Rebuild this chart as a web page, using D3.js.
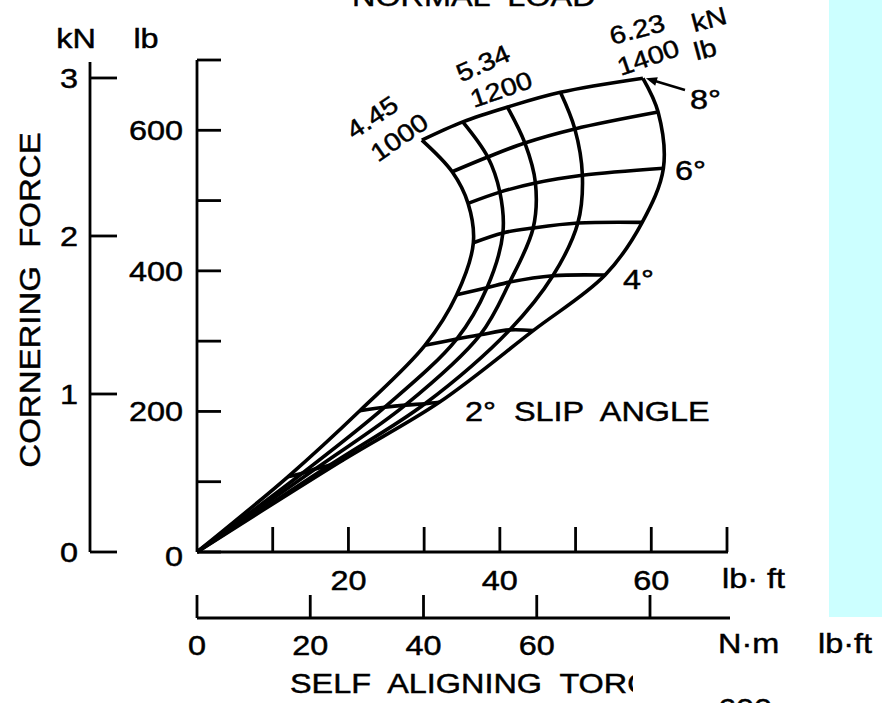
<!DOCTYPE html>
<html>
<head>
<meta charset="utf-8">
<script src="https://cdn.jsdelivr.net/npm/d3@7"></script>
<style>
  body { margin: 0; background: #fff; }
  svg { display: block; font-family: 'Liberation Sans', Arial, Helvetica, sans-serif; }
  text { fill: #000; stroke: #000; stroke-width: 0.45px; white-space: pre; }
</style>
</head>
<body>
<div id="chart"></div>
<script>
// normal loads (lb), one carpet line each
const loadsLb = [1000, 1100, 1200, 1300, 1400]
const slipAngles = [0, 1, 2, 3, 4, 5, 6, 7, 8]

// self aligning torque (lb·ft) and cornering force (lb) per slip angle
const torque1000 = [0, 12.0, 21.5, 30.1, 34.3, 36.5, 35.8, 33.7, 29.7]
const force1000 = [0, 107, 201, 294, 366, 440, 496, 541, 586]
const torque1100 = [0, 13.9, 24.8, 34.3, 38.3, 40.4, 40.0, 38.4, 35.1]
const force1100 = [0, 112, 206, 303, 376, 454, 512, 562, 612]
const torque1200 = [0, 15.6, 27.5, 37.4, 41.3, 44.4, 44.7, 43.3, 41.0]
const force1200 = [0, 118, 209, 309, 384, 461, 525, 582, 633]
const torque1300 = [0, 17.6, 30.1, 41.3, 47.0, 50.3, 50.9, 49.9, 48.0]
const force1300 = [0, 124, 211, 316, 393, 468, 536, 602, 654]
const torque1400 = [0, 19.3, 32.0, 44.4, 53.9, 58.8, 61.6, 60.9, 58.9]
const force1400 = [0, 131, 213, 315, 394, 469, 546, 626, 674]

// axis ticks
const lbMajorTicks = [0, 200, 400, 600]
const lbMinorTicks = [100, 300, 500, 700]
const kNTicks = [0, 1, 2, 3]
const lbftTicks = [10, 20, 30, 40, 50, 60, 70]
const lbftLabels = [20, 40, 60]
const nmTicks = [0, 20, 40, 60, 80]
const nmLabels = [0, 20, 40, 60]
const LB_PER_KN = 224.809

const width = 882
const height = 703
const fontSize = 27
// the lettering in the scan is wide, so glyphs get stretched along the text direction
const stretch = 1.2

const svg = d3
  .select('#chart')
  .append('svg')
  .attr('width', width)
  .attr('height', height)
  .attr('viewBox', `0 0 ${width} ${height}`)

// places a text at (x, y), rotated and stretched
function place(x, y, angle = 0, sx = stretch) {
  return `translate(${x},${y}) rotate(${angle}) scale(${sx},1)`
}

function addText(parent, str, x, y, opts = {}) {
  return parent
    .append('text')
    .attr('transform', place(x, y, opts.angle || 0, opts.sx || stretch))
    .attr('text-anchor', opts.anchor || 'start')
    .style('font-size', (opts.size || fontSize) + 'px')
    .text(str)
}

// scales
const x = d3.scaleLinear().domain([0, 70]).range([197, 727])
const y = d3.scaleLinear().domain([0, 700]).range([552, 60])
const xNm = d3.scaleLinear().domain([0, 80]).range([197, 650])

// light cyan strip on the right edge of the scan
svg.append('rect')
  .attr('x', 829).attr('y', 0)
  .attr('width', width - 829).attr('height', 617)
  .attr('fill', '#ccffff')

// title, cut off by the top edge
addText(svg, 'NORMAL  LOAD', 352, 6)

// ---- left axes ----
const axisStroke = 2.8

// kN axis
const kNx = 90
svg.append('line')
  .attr('x1', kNx).attr('x2', kNx)
  .attr('y1', y(700) + 2).attr('y2', y(0))
  .attr('stroke', '#000').attr('stroke-width', axisStroke)

svg.append('g')
  .selectAll('line')
  .data(kNTicks)
  .join('line')
  .attr('x1', kNx).attr('x2', kNx + 27)
  .attr('y1', (d) => y(d * LB_PER_KN)).attr('y2', (d) => y(d * LB_PER_KN))
  .attr('stroke', '#000').attr('stroke-width', axisStroke)

svg.append('g')
  .selectAll('text')
  .data(kNTicks)
  .join('text')
  .attr('transform', (d) => place(78, y(d * LB_PER_KN) + 10))
  .attr('text-anchor', 'end')
  .style('font-size', fontSize + 'px')
  .text((d) => d)

// lb axis
const lbx = x(0)
svg.append('line')
  .attr('x1', lbx).attr('x2', lbx)
  .attr('y1', y(700)).attr('y2', y(0))
  .attr('stroke', '#000').attr('stroke-width', axisStroke)

svg.append('g')
  .selectAll('line')
  .data(lbMajorTicks.concat(lbMinorTicks))
  .join('line')
  .attr('x1', lbx).attr('x2', lbx + 24)
  .attr('y1', (d) => y(d)).attr('y2', (d) => y(d))
  .attr('stroke', '#000').attr('stroke-width', axisStroke)

svg.append('g')
  .selectAll('text')
  .data(lbMajorTicks)
  .join('text')
  .attr('transform', (d) => place(183, y(d) + 10 + (d === 0 ? 4 : 0)))
  .attr('text-anchor', 'end')
  .style('font-size', fontSize + 'px')
  .text((d) => d)

addText(svg, 'kN', 76, 48, { anchor: 'middle' })
addText(svg, 'lb', 146, 48, { anchor: 'middle' })

addText(svg, 'CORNERING  FORCE', 40, 300, { anchor: 'middle', angle: -90, size: 30, sx: 1.1 })

// ---- bottom axes ----
// lb·ft axis
svg.append('line')
  .attr('x1', x(0)).attr('x2', x(70) + 1)
  .attr('y1', y(0)).attr('y2', y(0))
  .attr('stroke', '#000').attr('stroke-width', axisStroke)

svg.append('g')
  .selectAll('line')
  .data(lbftTicks)
  .join('line')
  .attr('x1', (d) => x(d)).attr('x2', (d) => x(d))
  .attr('y1', y(0)).attr('y2', y(0) - 25)
  .attr('stroke', '#000').attr('stroke-width', axisStroke)

svg.append('g')
  .selectAll('text')
  .data(lbftLabels)
  .join('text')
  .attr('transform', (d) => place(x(d), 590))
  .attr('text-anchor', 'middle')
  .style('font-size', fontSize + 'px')
  .text((d) => d)

addText(svg, 'lb· ft', 722, 588)

// N·m axis
const nmY = 618
svg.append('line')
  .attr('x1', xNm(0)).attr('x2', x(70) + 3)
  .attr('y1', nmY).attr('y2', nmY)
  .attr('stroke', '#000').attr('stroke-width', axisStroke)

svg.append('g')
  .selectAll('line')
  .data(nmTicks)
  .join('line')
  .attr('x1', (d) => xNm(d)).attr('x2', (d) => xNm(d))
  .attr('y1', nmY).attr('y2', nmY - 23)
  .attr('stroke', '#000').attr('stroke-width', axisStroke)

svg.append('g')
  .selectAll('text')
  .data(nmLabels)
  .join('text')
  .attr('transform', (d) => place(xNm(d), 655))
  .attr('text-anchor', 'middle')
  .style('font-size', fontSize + 'px')
  .text((d) => d)

addText(svg, 'N·m', 718, 653)
addText(svg, 'lb·ft', 818, 653)
addText(svg, '600  –', 718, 718)

// axis title, cut off on the right like the scan
svg.append('clipPath')
  .attr('id', 'title-clip')
  .append('rect')
  .attr('x', 0).attr('y', 650)
  .attr('width', 633).attr('height', 60)

const titleGroup = svg.append('g').attr('clip-path', 'url(#title-clip)')
addText(titleGroup, 'SELF  ALIGNING  TORQUE', 290, 693)

// ---- carpet plot ----
const torques = [torque1000, torque1100, torque1200, torque1300, torque1400]
const forces = [force1000, force1100, force1200, force1300, force1400]

const line = d3
  .line()
  .x((d) => x(d[0]))
  .y((d) => y(d[1]))
  .curve(d3.curveCatmullRom.alpha(0.5))

const grid = svg.append('g')
  .attr('fill', 'none')
  .attr('stroke', '#000')
  .attr('stroke-width', 3.6)
  .attr('stroke-linejoin', 'round')

// constant load curves
grid.selectAll('path.load')
  .data(loadsLb)
  .join('path')
  .attr('class', 'load')
  .attr('d', (d, i) => line(slipAngles.map((s, j) => [torques[i][j], forces[i][j]])))

// constant slip angle curves
grid.selectAll('path.slip')
  .data(slipAngles.filter((s) => s > 0))
  .join('path')
  .attr('class', 'slip')
  .attr('d', (s) => line(loadsLb.map((l, i) => [torques[i][s], forces[i][s]])))

// load labels along the 8° edge
const loadLabels = [
  { text: '4.45', x: 372, y: 117, angle: -34 },
  { text: '1000', x: 399, y: 137, angle: -35 },
  { text: '5.34', x: 483, y: 63, angle: -24 },
  { text: '1200', x: 501, y: 89, angle: -19 },
  { text: '6.23', x: 637, y: 29, angle: -15 },
  { text: 'kN', x: 709, y: 19, angle: -15 },
  { text: '1400', x: 648, y: 57, angle: -19 },
  { text: 'lb', x: 705, y: 49, angle: -15 },
]
svg.append('g')
  .selectAll('text')
  .data(loadLabels)
  .join('text')
  .attr('transform', (d) => place(d.x, d.y, d.angle, 1.15))
  .attr('text-anchor', 'middle')
  .attr('dy', '0.36em')
  .style('font-size', '25px')
  .text((d) => d.text)

// slip angle labels
const slipLabels = [
  { text: '8°', x: 690, y: 109 },
  { text: '6°', x: 675, y: 180 },
  { text: '4°', x: 623, y: 289 },
  { text: '2°  SLIP  ANGLE', x: 465, y: 421 },
]
svg.append('g')
  .selectAll('text')
  .data(slipLabels)
  .join('text')
  .attr('transform', (d) => place(d.x, d.y))
  .style('font-size', fontSize + 'px')
  .text((d) => d.text)

// arrow pointing at the 8° / 1400 lb corner
const tip = [x(torque1400[8]) + 3, y(force1400[8])]
const tail = [685, 90]
const ang = Math.atan2(tip[1] - tail[1], tip[0] - tail[0])
svg.append('line')
  .attr('x1', tail[0]).attr('y1', tail[1])
  .attr('x2', tip[0] - 6 * Math.cos(ang)).attr('y2', tip[1] - 6 * Math.sin(ang))
  .attr('stroke', '#000').attr('stroke-width', 2.4)
const head = [
  [0, 0], [-11, -4.5], [-11, 4.5],
].map(([a, b]) => [
  tip[0] + a * Math.cos(ang) - b * Math.sin(ang),
  tip[1] + a * Math.sin(ang) + b * Math.cos(ang),
])
svg.append('path')
  .attr('d', 'M' + head.join('L') + 'Z')
  .attr('fill', '#000')
</script>
</body>
</html>
